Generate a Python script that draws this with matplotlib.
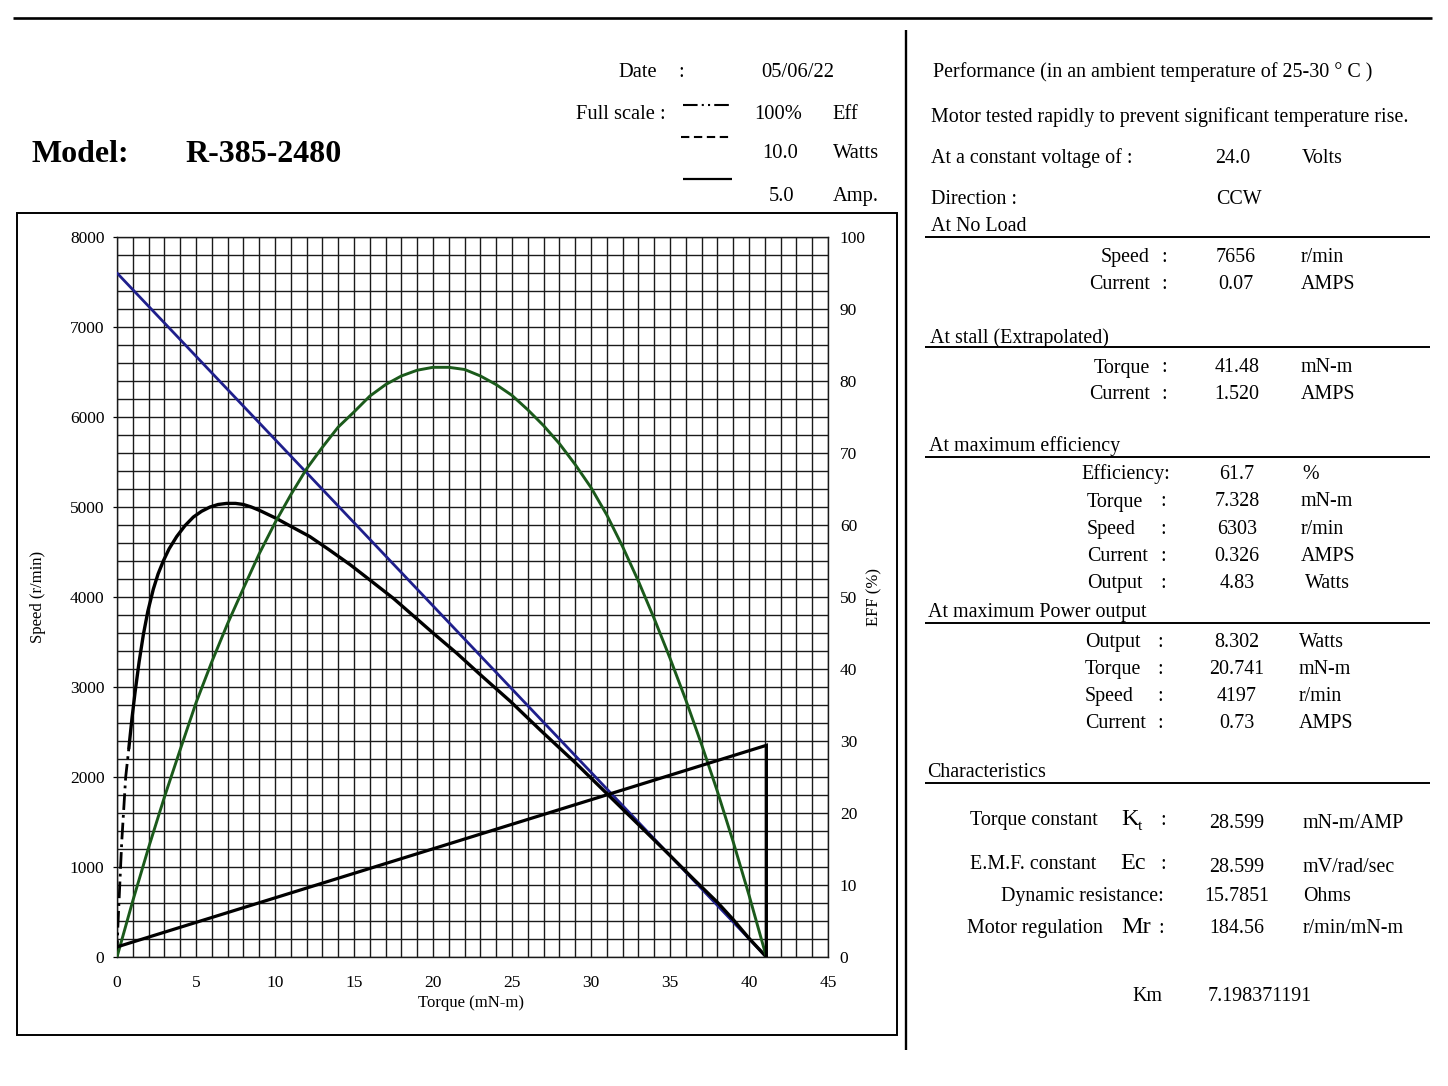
import matplotlib
matplotlib.use("Agg")
import matplotlib.pyplot as plt
from matplotlib.lines import Line2D
from matplotlib.ticker import MultipleLocator

plt.rcParams['font.family'] = ['Liberation Serif', 'DejaVu Serif']

# ---------------- data ----------------
speed_torque = [0, 41.1]
speed_rpm = [7600, 0]

current_torque = [0, 41.1, 41.1]
current_amp = [0.07, 1.47, 0.0]

eff_dash_torque = [0, 0.05, 0.3, 0.55, 0.75]
eff_dash_pct = [0, 4, 16, 25, 29]

eff_torque = [0.75, 0.95, 1.14, 1.4, 1.67, 1.95, 2.30, 2.6, 2.93, 3.3, 3.78, 4.3,
              4.83, 5.35, 5.89, 6.4, 6.94, 7.5, 8.0, 8.5, 9.05, 10.1, 11.1, 12.2,
              13.4, 14.75, 16.1, 17.5, 18.7, 20, 21.5, 23, 24.9, 26.8, 29, 31,
              33, 35, 36.5, 38, 39, 40, 41.1]
eff_pct = [29, 33.2, 36.7, 41.0, 44.8, 48.0, 51.1, 53.2, 55.0, 56.7, 58.4, 59.9,
           61.1, 61.9, 62.5, 62.85, 63.0, 63.0, 62.85, 62.5, 62.0, 60.9, 59.7, 58.4,
           56.6, 54.5, 52.2, 49.8, 47.5, 45.0, 42.2, 39.2, 35.5, 31.5, 27.0, 22.7,
           18.4, 14.1, 10.8, 7.6, 5.2, 2.6, 0]

power_torque = [0, 1, 2, 3, 4, 5, 6, 7, 8, 9, 10, 11, 12, 13, 14, 15, 16, 17,
                18, 19, 20, 21, 22, 23, 24, 25, 26, 27, 28, 29, 30, 31, 32, 33,
                34, 35, 36, 37, 38, 39, 40, 41.1]
power_w = [0, 0.78, 1.52, 2.22, 2.88, 3.53, 4.10, 4.63, 5.12, 5.60, 6.03, 6.42,
           6.78, 7.08, 7.36, 7.57, 7.79, 7.95, 8.07, 8.15, 8.19, 8.19, 8.16, 8.07,
           7.95, 7.80, 7.60, 7.38, 7.13, 6.84, 6.52, 6.14, 5.70, 5.22, 4.70, 4.15,
           3.57, 2.95, 2.30, 1.60, 0.86, 0]

x_ticks = [0, 5, 10, 15, 20, 25, 30, 35, 40, 45]
speed_ticks = [0, 1000, 2000, 3000, 4000, 5000, 6000, 7000, 8000]
eff_ticks = [0, 10, 20, 30, 40, 50, 60, 70, 80, 90, 100]

# right panel tables
noload_labels = ["Speed", "Current"]
noload_values = ["7656", "0.07"]
noload_units = ["r/min", "AMPS"]
stall_labels = ["Torque", "Current"]
stall_values = ["41.48", "1.520"]
stall_units = ["mN-m", "AMPS"]
maxeff_labels = ["Torque", "Speed", "Current", "Output"]
maxeff_values = ["61.7", "7.328", "6303", "0.326", "4.83"]
maxeff_units = ["%", "mN-m", "r/min", "AMPS", "Watts"]
maxpow_labels = ["Output", "Torque", "Speed", "Current"]
maxpow_values = ["8.302", "20.741", "4197", "0.73"]
maxpow_units = ["Watts", "mN-m", "r/min", "AMPS"]

W, H = 1448, 1086
fig = plt.figure(figsize=(W / 100, H / 100), dpi=100)
fig.patch.set_facecolor('white')

# overlay in pixel coordinates for page decorations and text
ov = fig.add_axes([0, 0, 1, 1], zorder=0)
ov.set_xlim(0, W)
ov.set_ylim(H, 0)
ov.axis('off')

def T(x, y, s, size=14, ha='left', weight='normal', va='baseline', **kw):
    ov.text(x, y, s, fontsize=size, ha=ha, va=va, fontweight=weight, **kw)

def L(xs, ys, lw=1.5, **kw):
    ov.add_line(Line2D(xs, ys, color='black', lw=lw, solid_capstyle='butt', **kw))

# frame lines
L([13, 1432], [17.5, 17.5], lw=1.9)
L([906, 906], [30, 1050], lw=1.7)
ov.add_patch(plt.Rectangle((17, 213), 880, 822, fill=False, lw=1.4, ec='black'))
for yy in [236.7, 347.3, 456.7, 622.7, 783]:
    L([925, 1430], [yy, yy], lw=1.4)

# header
T(32, 162, "Model:", size=23, weight='bold')
T(185, 162, "R-385-2480", size=23, weight='bold')
HS = 14.8
T(618, 77, "Date", size=HS)
T(678, 77, ":", size=HS)
T(797.5, 77, "05/06/22", size=HS, ha='center')
T(576, 119, "Full scale :", size=HS)
L([683, 732], [105, 105], lw=1.5, dashes=(7, 2, 1, 2, 1, 2))
L([681, 731], [136.5, 136.5], lw=1.5, dashes=(4, 2.2))
L([683, 732], [178.5, 178.5], lw=1.6)
T(778, 119, "100%", size=HS, ha='center')
T(832, 119, "Eff", size=HS)
T(780.5, 158, "10.0", size=HS, ha='center')
T(833, 158, "Watts", size=HS)
T(782, 201, "5.0", size=HS, ha='center')
T(833, 201, "Amp.", size=HS)

# right panel
RS = 14.4
T(933, 77, "Performance (in an ambient temperature of 25-30 ° C )", size=RS)
T(931, 122, "Motor tested rapidly to prevent significant temperature rise.", size=RS)
T(931, 163, "At a constant voltage of :", size=RS)
T(1233, 163, "24.0", size=RS, ha='center')
T(1302, 163, "Volts", size=RS)
T(931, 204, "Direction :", size=RS)
T(1239, 204, "CCW", size=RS, ha='center')
T(931, 231, "At No Load", size=RS)

for i, (lab, val, unit) in enumerate(zip(noload_labels, noload_values, noload_units)):
    y = 262 + i * 27.3
    T(1150, y, lab, size=RS, ha='right')
    T(1164, y, ":", size=RS, ha='center')
    T(1236, y, val, size=RS, ha='center')
    T(1301, y, unit, size=RS)

T(930, 343, "At stall (Extrapolated)", size=RS)
for i, (lab, val, unit) in enumerate(zip(stall_labels, stall_values, stall_units)):
    y = 372.5 + i * 26.7
    T(1150, y, lab, size=RS, ha='right')
    T(1164, y, ":", size=RS, ha='center')
    T(1237, y, val, size=RS, ha='center')
    T(1301, y, unit, size=RS)

T(929, 451, "At maximum efficiency", size=RS)
T(1081, 479, "Efficiency:", size=RS)
T(1237, 479, maxeff_values[0], size=RS, ha='center')
T(1302, 479, maxeff_units[0], size=RS)
for i, lab in enumerate(maxeff_labels):
    y = 506.5 + i * 27.2
    T(1087, y, lab, size=RS)
    T(1163, y, ":", size=RS, ha='center')
    T(1237, y, maxeff_values[i + 1], size=RS, ha='center')
    T(1301 if i < 3 else 1305, y, maxeff_units[i + 1], size=RS)

T(928, 617, "At maximum Power output", size=RS)
for i, (lab, val, unit) in enumerate(zip(maxpow_labels, maxpow_values, maxpow_units)):
    y = 647 + i * 27.1
    T(1085, y, lab, size=RS)
    T(1160, y, ":", size=RS, ha='center')
    T(1237, y, val, size=RS, ha='center')
    T(1299, y, unit, size=RS)

T(927, 777, "Characteristics", size=RS)
T(970, 825, "Torque constant", size=RS)
T(1121, 825, "K", size=17.5)
T(1138, 830, "t", size=11)
T(1163, 825, ":", size=RS, ha='center')
T(1237, 828, "28.599", size=RS, ha='center')
T(1303, 828, "mN-m/AMP", size=RS)
T(970, 869, "E.M.F. constant", size=RS)
T(1120, 869, "Ec", size=17.5)
T(1163, 869, ":", size=RS, ha='center')
T(1237, 872, "28.599", size=RS, ha='center')
T(1303, 872, "mV/rad/sec", size=RS)
T(1164, 901, "Dynamic resistance:", size=RS, ha='right')
T(1237, 901, "15.7851", size=RS, ha='center')
T(1303, 901, "Ohms", size=RS)
T(967, 933, "Motor regulation", size=RS)
T(1121, 933, "Mr", size=17.5)
T(1161, 933, ":", size=RS, ha='center')
T(1237, 933, "184.56", size=RS, ha='center')
T(1303, 933, "r/min/mN-m", size=RS)
T(1147, 1001, "Km", size=RS, ha='center')
T(1208, 1001, "7.198371191", size=RS)

# ---------------- chart ----------------
ax = fig.add_axes([117 / W, 1 - 957 / H, 711 / W, 720 / H], zorder=2)
ax.set_facecolor('none')
ax.set_xlim(0, 45)
ax.set_ylim(0, 8000)
ax.set_xticks(x_ticks)
ax.set_yticks(speed_ticks)
ax.xaxis.set_minor_locator(MultipleLocator(1))
ax.yaxis.set_minor_locator(MultipleLocator(200))
ax.grid(which='both', color='#1a1a1a', lw=1.0)
ax.set_axisbelow(True)
for s in ax.spines.values():
    s.set_color('#1a1a1a')
    s.set_linewidth(1.0)
ax.tick_params(axis='x', which='both', length=0, pad=13, labelsize=12.5)
ax.tick_params(axis='y', which='major', length=3, width=0.9, pad=6, labelsize=12.5)
ax.tick_params(axis='y', which='minor', length=0)
ax.set_xlabel("Torque (mN-m)", fontsize=12)
ax.xaxis.set_label_coords((471 - 117) / 711, (957 - 995) / 720)
ax.set_ylabel("Speed (r/min)", fontsize=12)
ax.yaxis.set_label_coords((46 - 117) / 711, 0.5)

ax_eff = ax.twinx()
ax_eff.set_ylim(0, 100)
ax_eff.set_yticks(eff_ticks)
ax_eff.tick_params(axis='y', length=0, pad=8.5, labelsize=12.5)
for s in ax_eff.spines.values():
    s.set_visible(False)
ax_eff.set_ylabel("EFF (%)", fontsize=12)
ax_eff.yaxis.set_label_coords((866 - 117) / 711, 0.5)

ax_w = ax.twinx()
ax_w.set_ylim(0, 10)
ax_w.axis('off')
ax_a = ax.twinx()
ax_a.set_ylim(0, 5)
ax_a.axis('off')

ax.plot(speed_torque, speed_rpm, color='#1f1f8c', lw=2.0, solid_capstyle='round', zorder=5)
ax_w.plot(power_torque, power_w, color='#1b5a1b', lw=2.1, solid_capstyle='round',
          solid_joinstyle='round', zorder=5)
ax_a.plot(current_torque, current_amp, color='black', lw=2.3, solid_joinstyle='miter', zorder=5)
ax_eff.plot(eff_torque, eff_pct, color='black', lw=2.4, solid_capstyle='round',
            solid_joinstyle='round', zorder=5)
ax_eff.plot(eff_dash_torque, eff_dash_pct, color='black', lw=2.0, dashes=(6, 1.8, 1, 1.8), zorder=5)

fig.savefig("out.png", dpi=100, facecolor='white')
